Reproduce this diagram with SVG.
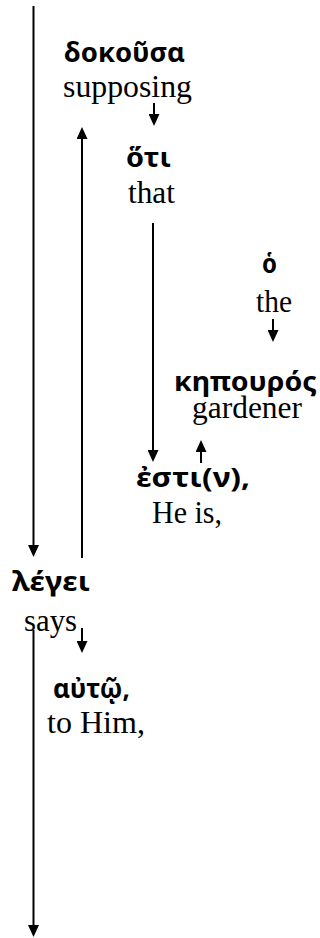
<svg xmlns="http://www.w3.org/2000/svg" width="320" height="938" viewBox="0 0 320 938">
<style>
.gk{font-family:"Noto Sans","DejaVu Sans",sans-serif;font-weight:bold;font-size:26px;fill:#000}
.en{font-family:"Liberation Serif","Times New Roman",serif;font-size:31px;fill:#000}
.c{stroke:#000;stroke-width:2;fill:none}
</style>
<defs>
<marker id="ah" markerUnits="userSpaceOnUse" markerWidth="12" markerHeight="11" refX="7" refY="5.5" orient="auto">
<path d="M0,0 L12,5.5 L0,11 Z" fill="#000"/>
</marker>
</defs>
<rect width="320" height="938" fill="#fff"/>
<g id="connectors">
<line class="c" x1="33.5" y1="6" x2="33.5" y2="552" marker-end="url(#ah)"/>
<line class="c" x1="82" y1="558" x2="82" y2="132" marker-end="url(#ah)"/>
<line class="c" x1="154" y1="103" x2="154" y2="121" marker-end="url(#ah)"/>
<line class="c" x1="153" y1="223" x2="153" y2="457" marker-end="url(#ah)"/>
<line class="c" x1="273" y1="319" x2="273" y2="337" marker-end="url(#ah)"/>
<line class="c" x1="201" y1="463" x2="201" y2="445" marker-end="url(#ah)"/>
<line class="c" x1="82" y1="628" x2="82" y2="648" marker-end="url(#ah)"/>
<line class="c" x1="33.5" y1="630" x2="33.5" y2="932" marker-end="url(#ah)"/>
</g>
<g id="n-dokousa">
<text class="gk" x="64" y="62" textLength="121" lengthAdjust="spacingAndGlyphs">δοκοῦσα</text>
<text class="en" x="63" y="97" textLength="129" lengthAdjust="spacingAndGlyphs">supposing</text>
</g>
<g id="n-hoti">
<text class="gk" x="126" y="167" textLength="45" lengthAdjust="spacingAndGlyphs">ὅτι</text>
<text class="en" x="128" y="203" textLength="47" lengthAdjust="spacingAndGlyphs">that</text>
</g>
<g id="n-ho">
<text class="gk" x="262" y="273" textLength="15" lengthAdjust="spacingAndGlyphs">ὁ</text>
<text class="en" x="256" y="312" textLength="36" lengthAdjust="spacingAndGlyphs">the</text>
</g>
<g id="n-kepouros">
<text class="gk" x="174" y="391" textLength="143" lengthAdjust="spacingAndGlyphs">κηπουρός</text>
<text class="en" x="192" y="418" textLength="110" lengthAdjust="spacingAndGlyphs">gardener</text>
</g>
<g id="n-esti">
<text class="gk" x="136" y="487" textLength="114" lengthAdjust="spacingAndGlyphs">ἐστι(ν),</text>
<text class="en" x="152" y="523" textLength="70" lengthAdjust="spacingAndGlyphs">He is,</text>
</g>
<g id="n-legei">
<text class="gk" x="12" y="591" textLength="78" lengthAdjust="spacingAndGlyphs">λέγει</text>
<text class="en" x="24" y="631" textLength="53" lengthAdjust="spacingAndGlyphs">says</text>
</g>
<g id="n-auto">
<text class="gk" x="53" y="698" textLength="77" lengthAdjust="spacingAndGlyphs">αὐτῷ,</text>
<text class="en" x="47" y="733" textLength="98" lengthAdjust="spacingAndGlyphs">to Him,</text>
</g>
</svg>
